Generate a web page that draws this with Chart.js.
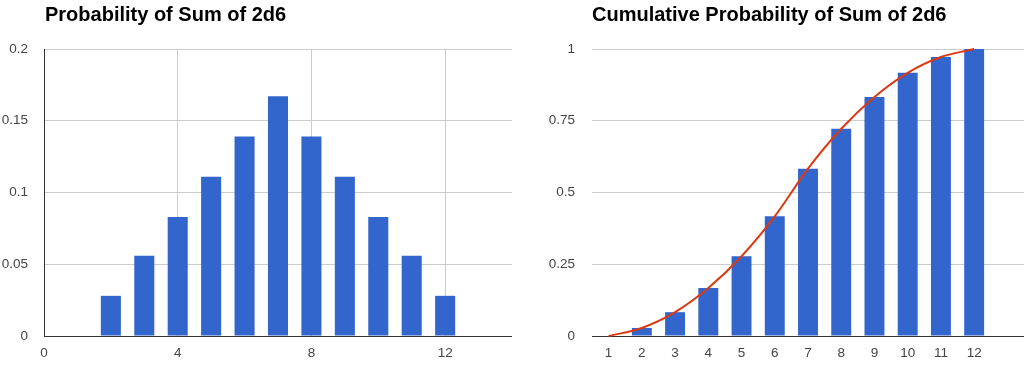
<!DOCTYPE html>
<html>
<head>
<meta charset="utf-8">
<script src="https://cdn.jsdelivr.net/npm/chart.js@4"></script>
<style>
  html, body { margin: 0; padding: 0; background: #fff; }
  body { width: 1024px; height: 371px; position: relative; overflow: hidden; }
  .panel { position: absolute; top: 0; width: 512px; height: 371px; }
  .title { position: absolute; top: 4px; font: bold 20px/20px 'Liberation Sans', Arial, sans-serif; color: #000; white-space: nowrap; }
</style>
</head>
<body>
<div class="panel" style="left:0"><canvas id="c1" width="512" height="371"></canvas></div>
<div class="panel" style="left:512px"><canvas id="c2" width="512" height="371"></canvas></div>
<div class="title" style="left:45px">Probability of Sum of 2d6</div>
<div class="title" style="left:592px">Cumulative Probability of Sum of 2d6</div>
<script>
// ---- data ----
const sums = [1, 2, 3, 4, 5, 6, 7, 8, 9, 10, 11, 12];
const probability = [0, 0.028, 0.056, 0.083, 0.111, 0.139, 0.167, 0.139, 0.111, 0.083, 0.056, 0.028];
const cumulative = [0, 0.028, 0.083, 0.167, 0.278, 0.417, 0.583, 0.722, 0.833, 0.917, 0.972, 1];
const leftXTicks = [0, 4, 8, 12];
const leftYTicks = [0, 0.05, 0.1, 0.15, 0.2];
const rightXTicks = [1, 2, 3, 4, 5, 6, 7, 8, 9, 10, 11, 12];
const rightYTicks = [0, 0.25, 0.5, 0.75, 1];
const titles = ['Probability of Sum of 2d6', 'Cumulative Probability of Sum of 2d6'];

Chart.defaults.font.family = "'Liberation Sans', Arial, sans-serif";
Chart.defaults.font.size = 13.5;
Chart.defaults.color = '#444';
Chart.defaults.animation = false;

const BAR = '#3366cc';
const LINE = '#dc3912';
const GRID = '#cccccc';
const AXIS = '#333333';
const fmt = v => String(+(+v).toFixed(4));
const pts = (xs, ys) => xs.map((x, i) => ({ x: x, y: ys[i] }));
const setTicks = arr => scale => { scale.ticks = arr.map(v => ({ value: v })); };

new Chart(document.getElementById('c1'), {
  type: 'bar',
  data: {
    datasets: [{
      label: titles[0],
      data: pts(sums, probability),
      backgroundColor: BAR,
      borderWidth: 0,
      barPercentage: 0.6,
      categoryPercentage: 1
    }]
  },
  options: {
    responsive: false,
    layout: { padding: { top: 49, left: 0, right: 0, bottom: 0 } },
    plugins: { legend: { display: false }, tooltip: { enabled: false }, title: { display: false } },
    scales: {
      x: {
        type: 'linear', min: 0, max: 14, offset: false,
        afterBuildTicks: setTicks(leftXTicks),
        afterFit: s => { s.height = 35; },
        grid: { offset: false, color: c => (c.tick && c.tick.value === 0) ? 'rgba(0,0,0,0)' : GRID, drawTicks: false },
        border: { display: true, color: AXIS, width: 1 },
        ticks: { padding: 9, callback: v => fmt(v), maxRotation: 0 }
      },
      y: {
        type: 'linear', min: 0, max: 0.2,
        afterBuildTicks: setTicks(leftYTicks),
        afterFit: s => { s.width = 44; },
        grid: { color: c => (c.tick && c.tick.value === 0) ? 'rgba(0,0,0,0)' : GRID, drawTicks: false },
        border: { display: true, color: AXIS, width: 1 },
        ticks: { padding: 16, callback: v => fmt(v) }
      }
    }
  }
});

new Chart(document.getElementById('c2'), {
  data: {
    datasets: [{
      type: 'line',
      label: titles[1],
      data: pts(sums, cumulative),
      borderColor: LINE,
      borderWidth: 2,
      pointRadius: 0,
      fill: false,
      cubicInterpolationMode: 'monotone',
      clip: 6,
      order: 0
    }, {
      type: 'bar',
      label: titles[1],
      data: pts(sums, cumulative),
      backgroundColor: BAR,
      borderWidth: 0,
      barPercentage: 0.6,
      categoryPercentage: 1,
      order: 1
    }]
  },
  options: {
    responsive: false,
    layout: { padding: { top: 49, left: 0, right: 0, bottom: 0 } },
    plugins: { legend: { display: false }, tooltip: { enabled: false }, title: { display: false } },
    scales: {
      x: {
        type: 'linear', min: 0.5, max: 13.5, offset: false,
        afterBuildTicks: setTicks(rightXTicks),
        afterFit: s => { s.height = 35; },
        grid: { display: false, offset: false, drawTicks: false },
        border: { display: true, color: AXIS, width: 1 },
        ticks: { padding: 9, callback: v => fmt(v), maxRotation: 0, autoSkip: false }
      },
      y: {
        type: 'linear', min: 0, max: 1,
        afterBuildTicks: setTicks(rightYTicks),
        afterFit: s => { s.width = 80; },
        grid: { color: c => (c.tick && c.tick.value === 0) ? 'rgba(0,0,0,0)' : GRID, drawTicks: false },
        border: { display: false },
        ticks: { padding: 17, callback: v => fmt(v) }
      }
    }
  }
});
</script>
</body>
</html>
